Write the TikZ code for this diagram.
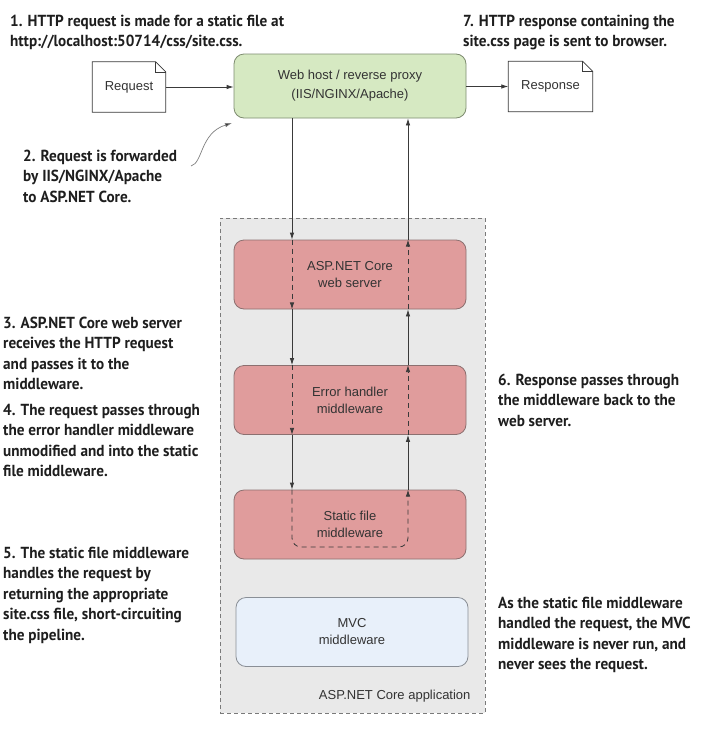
\documentclass[tikz,border=0pt]{standalone}
\usepackage{fontspec}
\setmainfont{Liberation Sans}
\newfontfamily\notefont[FakeStretch=0.95]{PT Sans}
\usetikzlibrary{arrows.meta}
\definecolor{hostfill}{HTML}{D6E9C2}
\definecolor{hostdraw}{HTML}{7E8C70}
\definecolor{redfill}{HTML}{E09C9C}
\definecolor{reddraw}{HTML}{8C7070}
\definecolor{appfill}{HTML}{E9E9E9}
\definecolor{appdraw}{HTML}{7A7A7A}
\definecolor{mvcfill}{HTML}{E8F0FA}
\definecolor{mvcdraw}{HTML}{8A8F96}
\definecolor{txt}{HTML}{333333}
\definecolor{notetxt}{HTML}{1E1E1E}
\definecolor{linec}{HTML}{3A3A3A}
\newcommand{\notetext}[1]{\parbox[t]{420pt}{\raggedright #1}}
\begin{document}
\begin{tikzpicture}[x=1pt,y=-1pt,
  box/.style={rectangle, rounded corners=10pt, minimum width=232pt, minimum height=69pt, align=center, font=\fontsize{13}{17}\selectfont, text=txt, line width=0.8pt},
  hostbox/.style={box, fill=hostfill, draw=hostdraw, minimum height=64pt, font=\fontsize{13}{19}\selectfont},
  redbox/.style={box, fill=redfill, draw=reddraw},
  mvcbox/.style={box, fill=mvcfill, draw=mvcdraw},
  docshape/.style={rectangle, minimum height=50pt, font=\fontsize{13}{16}\selectfont, text=txt, inner sep=0pt},
  doclines/.style={line width=0.8pt, draw=linec},
  note/.style={anchor=base west, inner sep=0pt, text=notetxt, font=\notefont\bfseries\fontsize{16}{20.5}\selectfont},
  arr/.style={draw=linec, line width=0.8pt, -{Latex[length=7pt,width=4.5pt]}},
  flow/.style={arr, dash pattern=on 5pt off 4pt}]

\fill[white] (0,0) rectangle (721,731);
\useasboundingbox (0,0) rectangle (721,731);

% application container
\node[draw=appdraw, fill=appfill, dash pattern=on 4pt off 3pt, line width=0.8pt,
      minimum width=265pt, minimum height=495pt, inner sep=0pt] (app) at (352.5,465.5) {};
\node[anchor=base east, font=\fontsize{13}{16}\selectfont, text=txt] (applabel) at (474,699) {ASP.NET Core application};

% boxes
\node[hostbox] (host) at (350,86) {Web host / reverse proxy\\(IIS/NGINX/Apache)};
\node[redbox] (asp) at (350,274.5) {ASP.NET Core\\web server};
\node[redbox] (err) at (350,400) {Error handler\\middleware};
\node[redbox] (stat) at (350,524.5) {Static file\\middleware};
\node[mvcbox] (mvc) at (352,632) {MVC\\middleware};

% documents
\node[docshape, minimum width=73pt] (req) at (129,87) {Request};
\node[docshape, minimum width=84pt] (resp) at (550.5,86.5) {Response};
\foreach \n in {req,resp} {
  \draw[doclines] (\n.south west) -- (\n.north west) -- ([xshift=-10pt]\n.north east)
     -- ([yshift=-10pt]\n.north east) -- (\n.south east) -- cycle;
  \draw[doclines, line width=0.6pt] ([xshift=-10pt]\n.north east) |- ([yshift=-10pt]\n.north east);
}

\draw[arr] (req.east) -- (req.east -| host.west);
\draw[arr] (host.east |- resp.west) -- (resp.west);

% flow lines
\coordinate (xl) at (292,0);
\coordinate (xr) at (408,0);
\coordinate (ub) at (0,547);
\draw[arr]  (host.south -| xl) -- (asp.north -| xl);
\draw[flow] (asp.north -| xl) -- (asp.south -| xl);
\draw[arr]  (asp.south -| xl) -- (err.north -| xl);
\draw[flow] (err.north -| xl) -- (err.south -| xl);
\draw[arr]  (err.south -| xl) -- (stat.north -| xl);
\draw[flow, rounded corners=9pt] (stat.north -| xl) -- (ub -| xl) -- (ub -| xr) -- (stat.north -| xr);
\draw[arr]  (stat.north -| xr) -- (err.south -| xr);
\draw[flow] (err.south -| xr) -- (err.north -| xr);
\draw[arr]  (err.north -| xr) -- (asp.south -| xr);
\draw[flow] (asp.south -| xr) -- (asp.north -| xr);
\draw[arr]  (asp.north -| xr) -- (host.south -| xr);

% notes
\node[note] (n1) at (10,26) {\notetext{1. HTTP request is made for a static file at\\http://localhost:50714/css/site.css.}};
\node[note] (n7) at (463,26) {\notetext{7. HTTP response containing the\\site.css page is sent to browser.}};
\node[note] (n2) at (23,161) {\notetext{2. Request is forwarded\\by IIS/NGINX/Apache\\to ASP.NET Core.}};
\node[note] (n3) at (3,328) {\notetext{3. ASP.NET Core web server\\receives the HTTP request\\and passes it to the\\middleware.}};
\node[note] (n4) at (3,415) {\notetext{4. The request passes through\\the error handler middleware\\unmodified and into the static\\file middleware.}};
\node[note] (n5) at (3,558) {\notetext{5. The static file middleware\\handles the request by\\returning the appropriate\\site.css file, short-circuiting\\the pipeline.}};
\node[note] (n6) at (498,385) {\notetext{6. Response passes through\\the middleware back to the\\web server.}};
\node[note] (n8) at (498,608) {\notetext{As the static file middleware\\handled the request, the MVC\\middleware is never run, and\\never sees the request.}};

% curved pointer from note 2
\coordinate (c2s) at (191,166);
\coordinate (c2e) at (232,123);
\draw[draw=gray, line width=0.7pt, -{Latex[length=7pt,width=4.5pt,fill=linec]}] (c2s) .. controls (203,163) and (200,133) .. (c2e);
\end{tikzpicture}
\end{document}
